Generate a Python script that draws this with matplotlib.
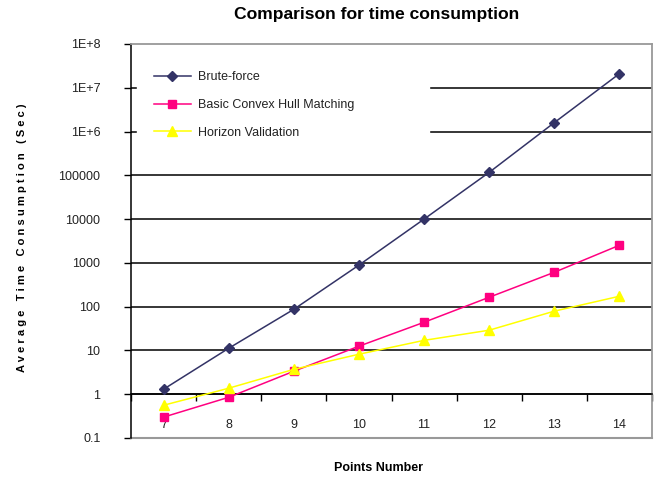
import matplotlib
matplotlib.use("Agg")
import matplotlib.pyplot as plt
from matplotlib.ticker import FixedLocator, NullFormatter

plt.rcParams['font.family'] = ['Liberation Sans', 'DejaVu Sans']

points = [7, 8, 9, 10, 11, 12, 13, 14]
brute_force = [1.3, 11.2, 87, 890, 10000, 117000, 1.6e6, 2.1e7]
convex_hull = [0.3, 0.85, 3.35, 12.5, 44, 164, 610, 2530]
horizon = [0.56, 1.37, 3.7, 8.2, 17, 29, 79, 173]
y_ticks = [0.1, 1, 10, 100, 1000, 10000, 100000, 1e6, 1e7, 1e8]
y_labels = ["0.1", "1", "10", "100", "1000", "10000", "100000", "1E+6", "1E+7", "1E+8"]
series_names = ["Brute-force", "Basic Convex Hull Matching", "Horizon Validation"]

W, H = 663, 483
fig = plt.figure(figsize=(W / 100, H / 100), dpi=100)
ax = fig.add_axes([131 / W, (H - 438) / H, (652 - 131) / W, (438 - 44) / H])

ax.set_yscale('log')
ax.set_ylim(0.1, 1e8)
ax.set_xlim(6.5, 14.5)

# gridlines (black) for interior decades
for v in y_ticks[1:-1]:
    ax.axhline(v, color='black', lw=1.1, zorder=1)

ax.plot(points, brute_force, color='#333366', marker='D', ms=5.5, lw=1.1, label=series_names[0], zorder=3)
ax.plot(points, convex_hull, color='#FF0080', marker='s', ms=6, lw=1.1, label=series_names[1], zorder=3)
ax.plot(points, horizon, color='#FFFF00', marker='^', ms=7, lw=1.1, label=series_names[2], zorder=3)

# spines
ax.spines['left'].set_color('black')
ax.spines['left'].set_linewidth(1.1)
for s in ['top', 'right']:
    ax.spines[s].set_color('#999999')
    ax.spines[s].set_linewidth(1.3)
ax.spines['bottom'].set_position(('data', 1))
ax.spines['bottom'].set_color('black')
ax.spines['bottom'].set_linewidth(1.1)
ax.axhline(0.1, color='#999999', lw=1.5, clip_on=False, zorder=2)

ax.yaxis.set_major_locator(FixedLocator(y_ticks))
ax.yaxis.set_minor_locator(FixedLocator([]))
ax.set_yticklabels(y_labels)
ax.tick_params(axis='y', which='major', direction='out', length=5, width=1, labelsize=9, colors='black', pad=17)
ax.tick_params(axis='y', labelcolor='#222222')

ax.xaxis.set_major_locator(FixedLocator(points))
ax.set_xticklabels([str(p) for p in points])
ax.xaxis.set_minor_locator(FixedLocator([p + 0.5 for p in [6] + points]))
ax.xaxis.set_minor_formatter(NullFormatter())
ax.tick_params(axis='x', which='major', length=0, labelsize=9, pad=17.5, labelcolor='#222222')
ax.tick_params(axis='x', which='minor', direction='out', length=5, width=1, color='black')

leg = ax.legend(loc='upper left', bbox_to_anchor=(0.012, 0.72, 0.56, 0.252), mode='expand',
                frameon=True, facecolor='white', edgecolor='white', framealpha=1,
                fontsize=9, handlelength=3.0, handletextpad=0.55, labelspacing=1.25,
                borderpad=1.3, borderaxespad=0, fancybox=False)
leg.set_zorder(2.5)
for t in leg.get_texts():
    t.set_color('#222222')

fig.text(377 / W, 1 - 14 / H, "Comparison for time consumption", ha='center', va='center',
         fontsize=12.6, fontweight='bold')
fig.text(378 / W, 1 - 468 / H, "Points Number", ha='center', va='center', fontsize=9, fontweight='bold')
fig.text(22 / W, 1 - 238 / H, "A v e r a g e   T i m e   C o n s u m p t i o n   ( S e c )",
         ha='center', va='center', rotation=90, fontsize=8, fontweight='bold')

fig.savefig("out.png", dpi=100)
